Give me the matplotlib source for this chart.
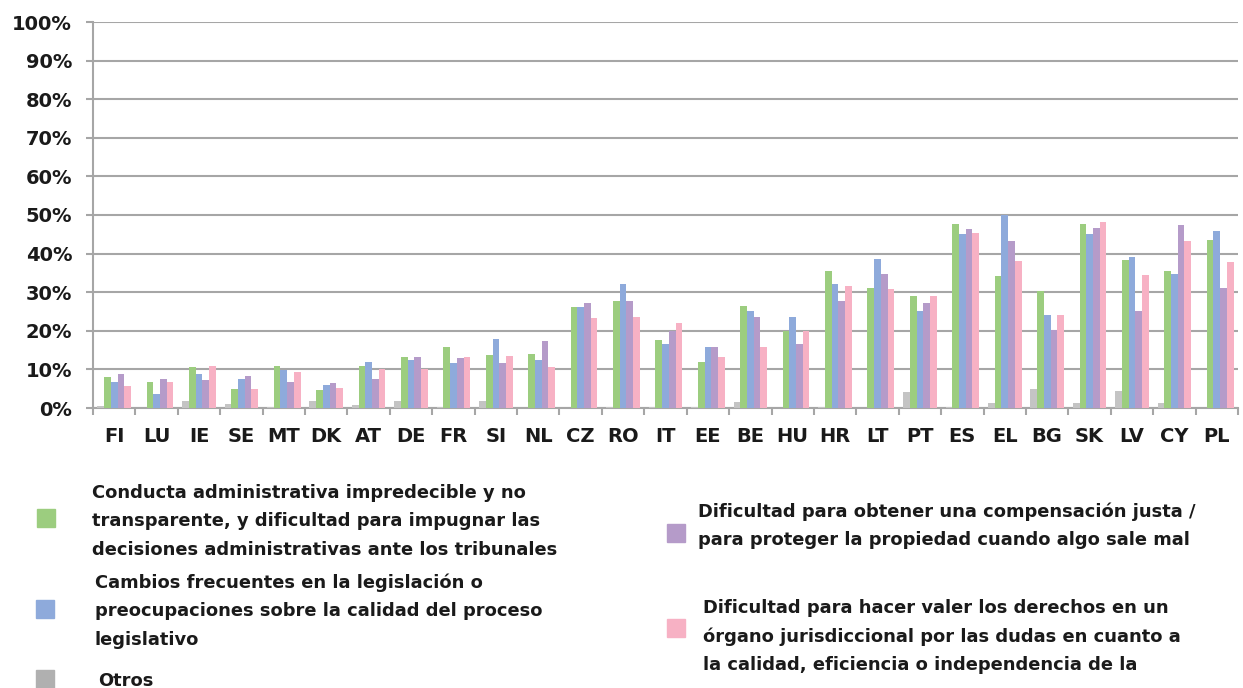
import matplotlib.pyplot as plt
import numpy as np
from matplotlib.patches import Rectangle

countries = ['FI', 'LU', 'IE', 'SE', 'MT', 'DK', 'AT', 'DE', 'FR', 'SI', 'NL', 'CZ', 'RO', 'IT',
             'EE', 'BE', 'HU', 'HR', 'LT', 'PT', 'ES', 'EL', 'BG', 'SK', 'LV', 'CY', 'PL']

otros = [0.4, 0.0, 1.8, 1.0, 0.35, 1.9, 0.7, 1.8, 0.3, 1.7, 0.1, 0.0, 0.3, 0.3,
         0.2, 1.5, 0.0, 0.2, 0.0, 4.1, 0.2, 1.3, 5.0, 1.3, 4.3, 1.3, 0.0]
conducta = [8.1, 6.7, 10.7, 5.0, 11.0, 4.6, 11.0, 13.1, 15.7, 13.7, 13.9, 26.2, 27.8, 17.7,
            11.9, 26.5, 20.0, 35.6, 31.0, 29.0, 47.6, 34.1, 30.3, 47.6, 38.4, 35.6, 43.4]
cambios = [6.8, 3.7, 8.8, 7.5, 9.8, 5.9, 11.8, 12.4, 11.7, 17.9, 12.5, 26.2, 32.2, 16.6,
           15.7, 25.1, 23.5, 32.2, 38.7, 25.1, 45.0, 49.9, 24.2, 45.0, 39.1, 34.8, 45.9]
compensacion = [8.9, 7.5, 7.2, 8.2, 6.8, 6.4, 7.6, 13.1, 13.0, 11.7, 17.4, 27.3, 27.8, 20.0,
                15.9, 23.5, 16.7, 27.8, 34.8, 27.3, 46.3, 43.2, 20.2, 46.6, 25.1, 47.4, 31.2]
derechos = [5.6, 6.8, 11.0, 5.0, 9.3, 5.3, 10.1, 10.1, 13.3, 13.4, 10.7, 23.3, 23.6, 21.9,
            13.2, 15.7, 20.0, 31.6, 30.8, 28.9, 45.3, 38.2, 24.2, 48.3, 34.4, 43.2, 37.8]

series = [otros, conducta, cambios, compensacion, derechos]
colors = ['#c4c4c4', '#9ccd7f', '#8eaadb', '#b59bc9', '#f7b1c4']

fig = plt.figure(figsize=(12.43, 6.88), dpi=100)
ax = fig.add_axes([93 / 1243, 1 - 408 / 688, 1145 / 1243, 386 / 688])

x = np.arange(len(countries))
w = 0.158
for i, (vals, c) in enumerate(zip(series, colors)):
    ax.bar(x + (i - 2) * w, vals, width=w, color=c, zorder=3)

ax.set_xlim(-0.5, len(countries) - 0.5)
ax.set_ylim(0, 100)
ax.set_yticks(np.arange(0, 101, 10))
ax.set_yticklabels([f'{v}%' for v in range(0, 101, 10)])
ax.yaxis.grid(True, color='#a6a6a6', lw=1.5, zorder=0)
ax.set_xticks(x)
ax.set_xticklabels(countries)
ax.set_xticks(np.arange(-0.5, len(countries), 1), minor=True)
ax.tick_params(axis='x', which='major', length=0, pad=14, labelsize=14)
ax.tick_params(axis='x', which='minor', length=5, width=1.5, color='#a6a6a6', direction='out')
ax.tick_params(axis='y', length=5, width=1.5, color='#a6a6a6', pad=10, labelsize=14)
for lab in ax.get_xticklabels() + ax.get_yticklabels():
    lab.set_fontweight('bold')
    lab.set_color('#1a1a1a')
for s in ['top', 'right']:
    ax.spines[s].set_visible(False)
for s in ['left', 'bottom']:
    ax.spines[s].set_color('#a6a6a6')
    ax.spines[s].set_linewidth(1.5)

# legend drawn by hand
legend_items = [
    (colors[1], 46, 518, 92, ['Conducta administrativa impredecible y no',
                              'transparente, y dificultad para impugnar las',
                              'decisiones administrativas ante los tribunales'], 493),
    (colors[2], 45, 609, 95, ['Cambios frecuentes en la legislación o',
                              'preocupaciones sobre la calidad del proceso',
                              'legislativo'], 583),
    ('#b0b0b0', 45, 679, 98, ['Otros'], 681),
    (colors[3], 676, 533, 698, ['Dificultad para obtener una compensación justa /',
                                'para proteger la propiedad cuando algo sale mal'], 512),
    (colors[4], 676, 628, 703, ['Dificultad para hacer valer los derechos en un',
                                'órgano jurisdiccional por las dudas en cuanto a',
                                'la calidad, eficiencia o independencia de la'], 608),
]
W, H = 1243, 688
sq = 18
for c, sx, sy, tx, lines, ty in legend_items:
    fig.patches.append(Rectangle(((sx - sq / 2) / W, 1 - (sy + sq / 2) / H), sq / W, sq / H,
                                 transform=fig.transFigure, color=c))
    for k, line in enumerate(lines):
        fig.text(tx / W, 1 - (ty + k * 28.3) / H, line, fontsize=12.9, fontweight='bold',
                 color='#1a1a1a', ha='left', va='center')

plt.savefig('out.png', dpi=100)
